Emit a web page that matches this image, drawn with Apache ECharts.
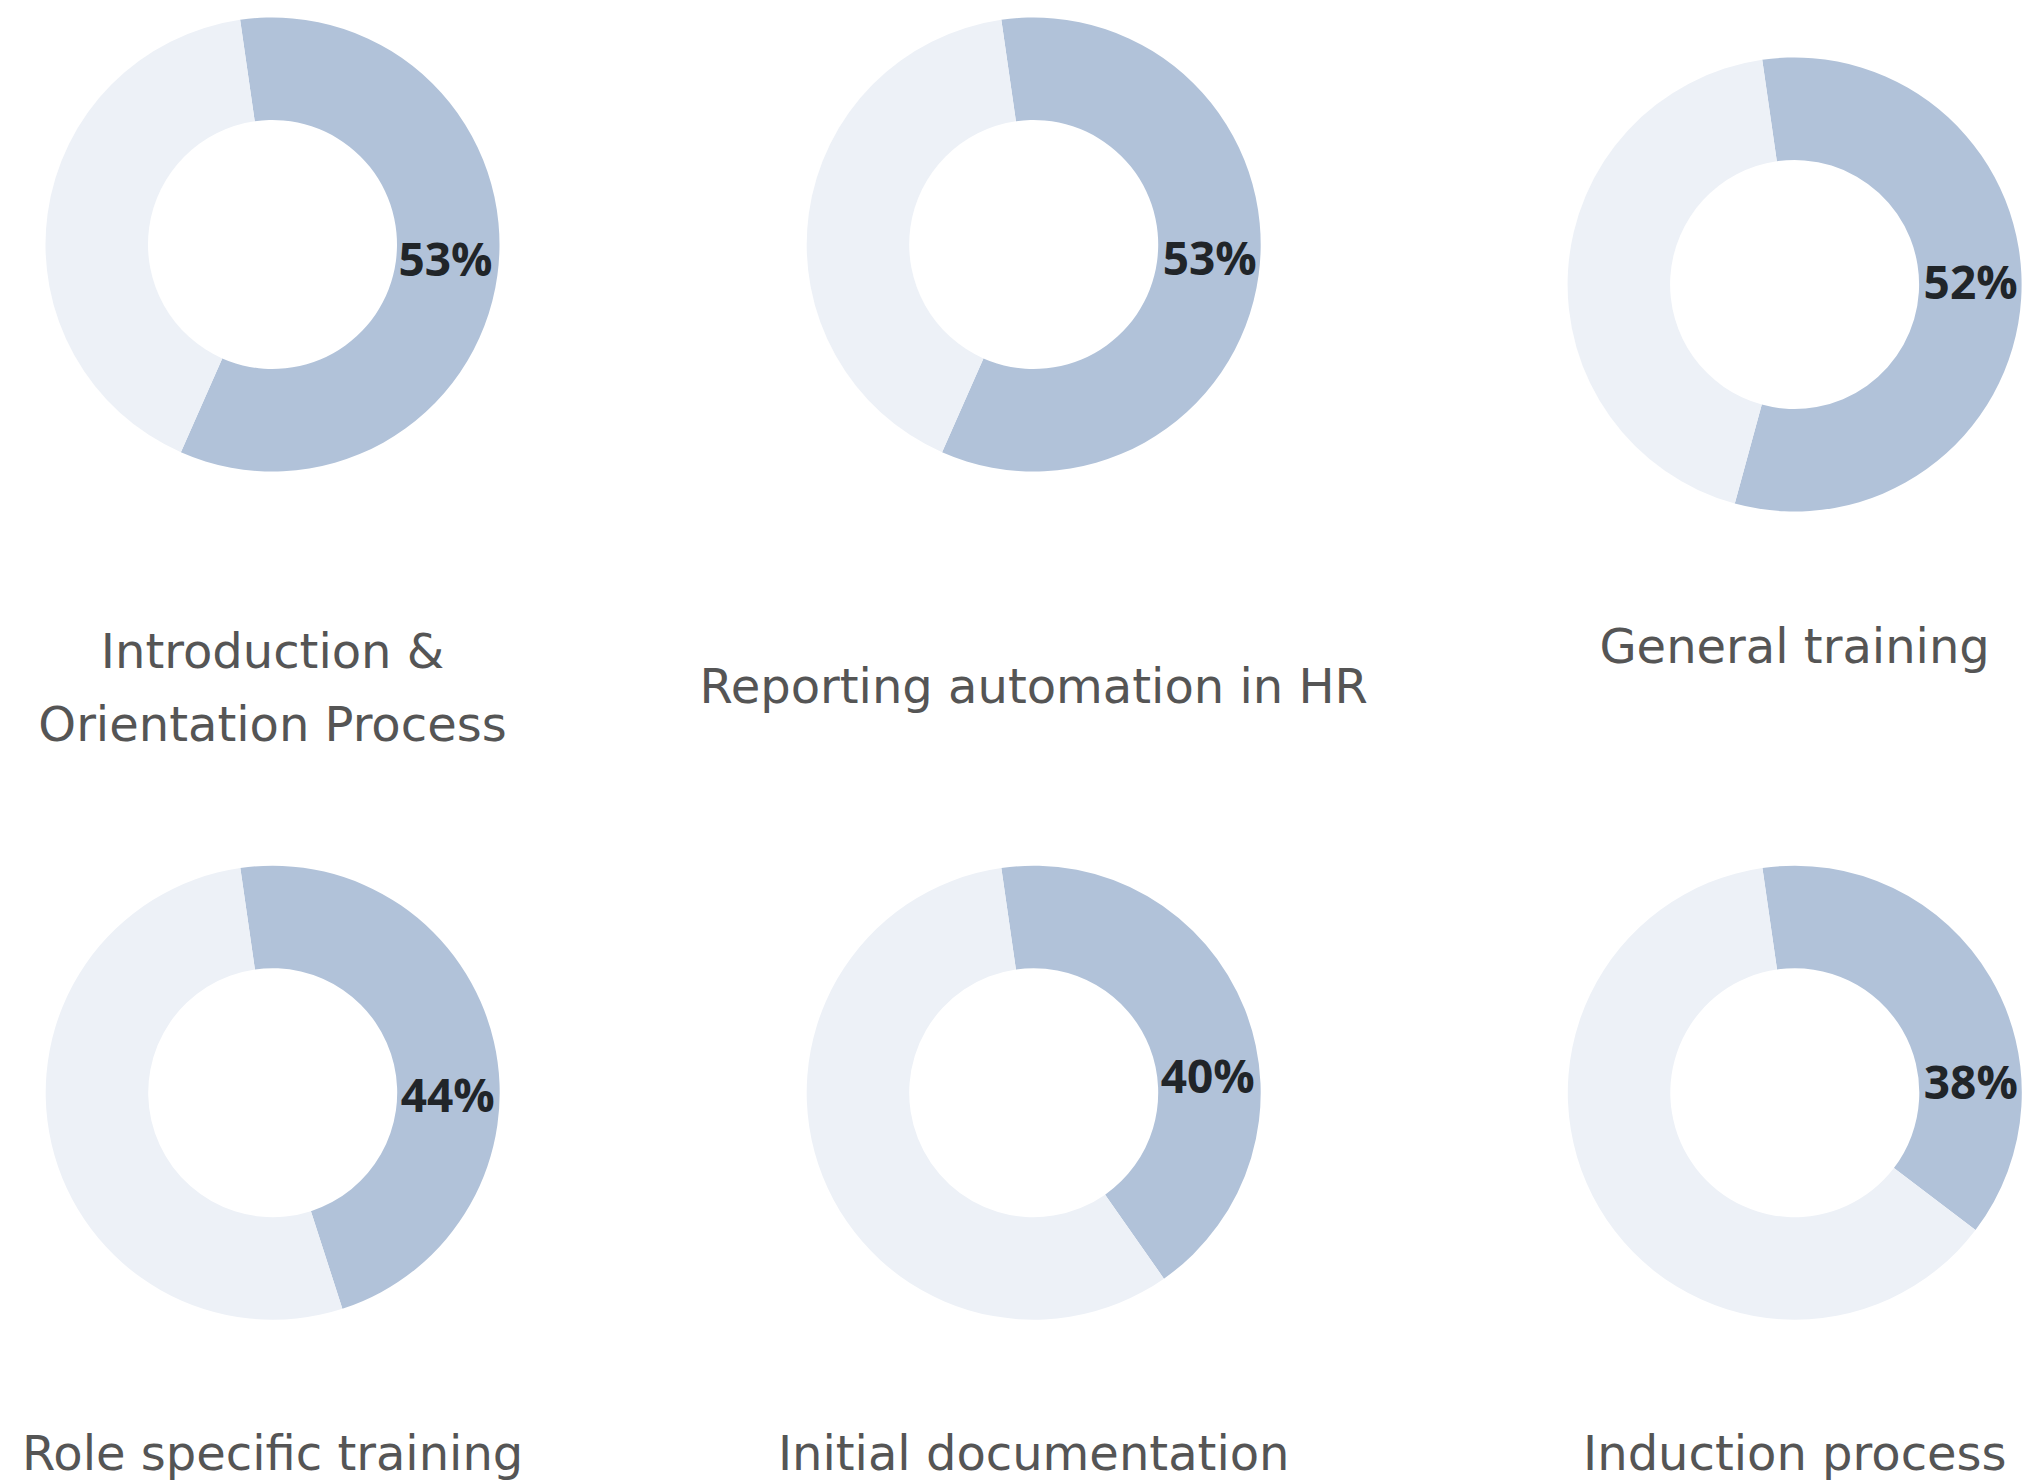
<!DOCTYPE html>
<html>
<head>
<meta charset="utf-8">
<script src="https://cdn.jsdelivr.net/npm/echarts@6/dist/echarts.min.js"></script>
<style>
  html, body { margin: 0; padding: 0; background: #ffffff; }
  #chart { width: 2038px; height: 1481px; }
</style>
</head>
<body>
<div id="chart"></div>
<script>
// ---- data ----
const categories = [
  'Introduction &\nOrientation Process',
  'Reporting automation in HR',
  'General training',
  'Role specific training',
  'Initial documentation',
  'Induction process'
];
const shareValues = [53, 53, 52, 44, 40, 38];   // highlighted slice (label value, %)
const otherValues = [37, 37, 40, 49, 54, 63];   // remaining slice

// ---- layout (positions / sizes) ----
const centers = [[272.5, 244.5], [1033.7, 244.5], [1794.6, 284.5],
                 [272.7, 1092.7], [1033.7, 1092.7], [1794.8, 1092.7]];
const titleY = [687.5, 686, 646, 1453, 1453, 1453];
const labelOffset = [[173, 13.5], [176, 12], [176, -4], [175, 1], [174, -18], [176, -11.5]];
const innerR = 124.5, outerR = 227;
const darkColor = '#B1C2D9', lightColor = '#EDF1F7';

const chart = echarts.init(document.getElementById('chart'), null, { renderer: 'svg' });

const series = categories.map((name, i) => ({
  type: 'pie',
  name: name,
  center: centers[i],
  radius: [innerR, outerR],
  startAngle: 98.2,
  clockwise: true,
  silent: true,
  animation: false,
  avoidLabelOverlap: false,
  label: { show: false },
  labelLine: { show: false },
  emphasis: { disabled: true },
  itemStyle: { borderWidth: 0 },
  data: [
    { value: shareValues[i], itemStyle: { color: darkColor } },
    { value: otherValues[i], itemStyle: { color: lightColor } }
  ]
}));

const graphics = [];
categories.forEach((name, i) => {
  graphics.push({
    type: 'text',
    x: centers[i][0],
    y: titleY[i],
    silent: true,
    style: {
      text: name,
      fill: '#555555',
      fontFamily: 'DejaVu Sans',
      fontSize: 48,
      fontWeight: 'normal',
      lineHeight: 73,
      align: 'center', verticalAlign: 'middle',
      textAlign: 'center', textVerticalAlign: 'middle'
    }
  });
  graphics.push({
    type: 'text',
    x: centers[i][0] + labelOffset[i][0],
    y: centers[i][1] + labelOffset[i][1],
    silent: true,
    z: 10,
    style: {
      text: shareValues[i] + '%',
      fill: '#212529',
      fontFamily: 'Open Sans',
      fontSize: 46,
      fontWeight: 'bold',
      align: 'center', verticalAlign: 'middle',
      textAlign: 'center', textVerticalAlign: 'middle'
    }
  });
});

chart.setOption({
  backgroundColor: '#ffffff',
  animation: false,
  series: series,
  graphic: graphics
});
</script>
</body>
</html>
